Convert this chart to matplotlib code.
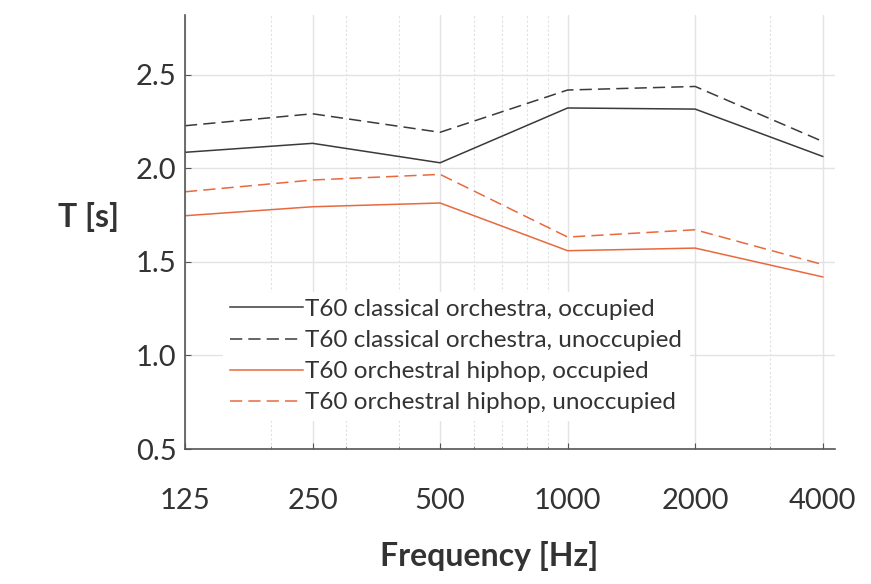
import matplotlib
matplotlib.use("Agg")
import matplotlib.pyplot as plt
from matplotlib.ticker import FixedLocator, NullFormatter, LogLocator

# Octave band centre frequencies
freqs = [125, 250, 500, 1000, 2000, 4000]
freq_labels = ["125", "250", "500", "1000", "2000", "4000"]

# Reverberation times
classical_occupied = [2.086, 2.134, 2.030, 2.323, 2.317, 2.064]
classical_unoccupied = [2.228, 2.292, 2.193, 2.419, 2.438, 2.144]
hiphop_occupied = [1.747, 1.795, 1.815, 1.560, 1.574, 1.420]
hiphop_unoccupied = [1.875, 1.938, 1.968, 1.633, 1.672, 1.486]

y_ticks = [0.5, 1.0, 1.5, 2.0, 2.5]

plt.rcParams['font.family'] = ['Lato', 'DejaVu Sans']
text_col = '#333333'
dark = '#3a3a3a'
orange = '#e8693e'

fig = plt.figure(figsize=(8.71, 5.84), dpi=100)
ax = fig.add_axes([185 / 871, 1 - 449 / 584, 650 / 871, 434 / 584])

dash = (0, (8, 4))
ax.plot(freqs, classical_occupied, color=dark, lw=1.1, label='T60 classical orchestra, occupied')
ax.plot(freqs, classical_unoccupied, color=dark, lw=1.1, linestyle=dash, label='T60 classical orchestra, unoccupied')
ax.plot(freqs, hiphop_occupied, color=orange, lw=1.1, label='T60 orchestral hiphop, occupied')
ax.plot(freqs, hiphop_unoccupied, color=orange, lw=1.1, linestyle=dash, label='T60 orchestral hiphop, unoccupied')

ax.set_xscale('log')
ax.set_xlim(125, 4276)
ax.set_ylim(0.5, 2.82)
ax.xaxis.set_major_locator(FixedLocator(freqs))
ax.set_xticklabels(freq_labels)
ax.xaxis.set_minor_locator(LogLocator(base=10, subs=range(2, 10)))
ax.xaxis.set_minor_formatter(NullFormatter())
ax.set_yticks(y_ticks)
ax.set_yticklabels([f"{v:.1f}" for v in y_ticks])

ax.grid(True, which='major', color='#e3e3e3', lw=1.0, linestyle='-')
ax.grid(True, which='minor', axis='x', color='#e0e0e0', lw=0.8, linestyle=(0, (2, 2)))
ax.set_axisbelow(True)

for side in ['top', 'right']:
    ax.spines[side].set_visible(False)
for side in ['left', 'bottom']:
    ax.spines[side].set_color('#555555')
    ax.spines[side].set_linewidth(1.2)

ax.tick_params(axis='both', which='major', direction='in', length=4, color='#555555',
               labelsize=21, labelcolor=text_col)
ax.tick_params(axis='x', which='major', pad=28)
ax.tick_params(axis='y', which='major', pad=6)
ax.tick_params(axis='x', which='minor', direction='in', length=2, color='#777777')

ax.set_xlabel('Frequency [Hz]', fontsize=23, fontweight='bold', color=text_col,
              va='center', ha='center')
ax.xaxis.set_label_coords(0.468, -0.247)
ax.set_ylabel('T [s]', fontsize=23, fontweight='bold', color=text_col, rotation=0,
              labelpad=0, va='center', ha='center')
ax.yaxis.set_label_coords(-0.148, 0.535)

leg = ax.legend(loc='lower left', bbox_to_anchor=(0.058, 0.065), frameon=True,
                fontsize=17.5, handlelength=3.0, handletextpad=0.1,
                labelspacing=0.42, borderpad=0.3, borderaxespad=0)
leg.get_frame().set_facecolor('white')
leg.get_frame().set_edgecolor('none')
leg.get_frame().set_alpha(1.0)
for t in leg.get_texts():
    t.set_color(text_col)

fig.savefig('out.png', dpi=100)
